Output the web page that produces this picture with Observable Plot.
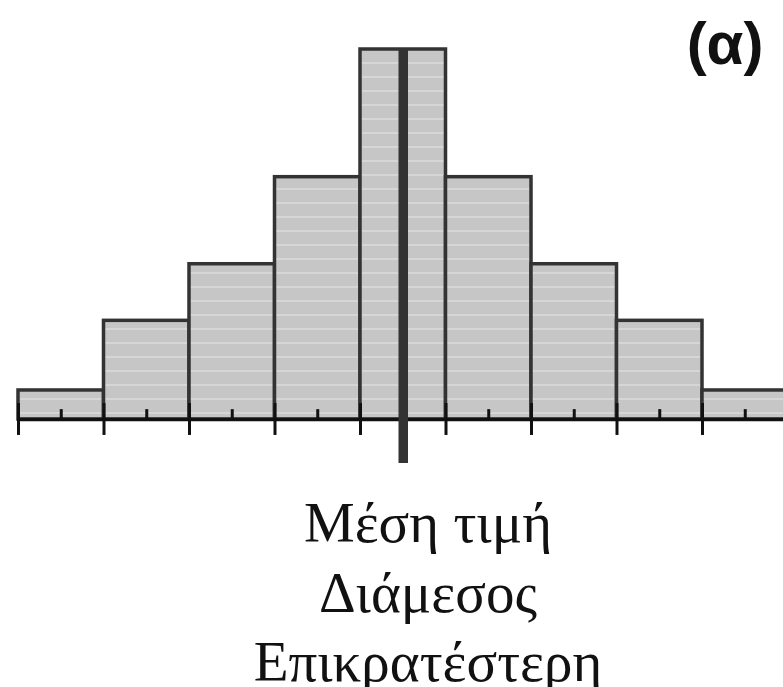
<!DOCTYPE html>
<html>
<head>
<meta charset="utf-8">
<script src="https://cdn.jsdelivr.net/npm/d3@7"></script>
<script src="https://cdn.jsdelivr.net/npm/@observablehq/plot@0.6"></script>
<style>
  html, body { margin: 0; padding: 0; background: #fff; }
  #chart svg { display: block; }
  #labels {
    font-family: "Liberation Serif", "Times New Roman", serif;
    font-size: 57px;
    line-height: 69.5px;
    text-align: center;
    color: #111;
    width: 710px;
    padding-left: 73px;
    margin-top: 18px;
    white-space: nowrap;
  }
</style>
</head>
<body>
<div id="chart"></div>
<div id="labels"></div>
<script>
// --- data ---
const binEdges = [0, 1, 2, 3, 4, 5, 6, 7, 8, 9];
const frequencies = [1, 3.4, 5.35, 8.35, 12.75, 8.35, 5.35, 3.4, 1];
const centralValue = 4.5;
const labelLines = ["Μέση τιμή", "Διάμεσος", "Επικρατέστερη"];
const panelLabel = "(α)";

// --- derived tables ---
const bars = frequencies.map((f, i) => ({x1: binEdges[i], x2: binEdges[i + 1], y: f}));
const midpoints = frequencies.map((f, i) => (binEdges[i] + binEdges[i + 1]) / 2).filter(m => m !== centralValue);
const maxFreq = d3.max(frequencies);

const chart = Plot.plot({
  width: 783,
  height: 470,
  marginLeft: 18,
  marginRight: 0,
  marginTop: 0,
  marginBottom: 0,
  x: {domain: [0, 9], range: [18, 787.5], axis: null},
  y: {domain: [0, maxFreq], range: [419, 49], axis: null},
  marks: [
    Plot.rectY(bars, {x1: "x1", x2: "x2", y: "y", fill: "url(#stripes)", stroke: "#333", strokeWidth: 3.5}),
    Plot.ruleY([0], {stroke: "#111", strokeWidth: 3.5}),
    Plot.ruleX(binEdges, {y1: -0.55, y2: 0.55, stroke: "#111", strokeWidth: 3}),
    Plot.ruleX(midpoints, {y1: 0, y2: 0.34, stroke: "#111", strokeWidth: 3}),
    Plot.ruleX([centralValue], {y1: maxFreq, y2: -1.52, stroke: "#333", strokeWidth: 9.5}),
    Plot.text([panelLabel], {
      frameAnchor: "top-right",
      textAnchor: "end",
      lineAnchor: "top",
      dx: -20,
      dy: 21,
      fontSize: 60,
      fontWeight: "bold",
      fontFamily: "Liberation Sans, Arial, sans-serif",
      fill: "#111"
    })
  ]
});

// striped grey fill pattern
const defs = d3.select(chart).insert("defs", ":first-child");
const pat = defs.append("pattern")
  .attr("id", "stripes")
  .attr("patternUnits", "userSpaceOnUse")
  .attr("width", 20)
  .attr("height", 14);
pat.append("rect").attr("width", 20).attr("height", 14).attr("fill", "#c6c6c6");
pat.append("rect").attr("y", 6).attr("width", 20).attr("height", 2).attr("fill", "#d6d6d6");

document.getElementById("chart").appendChild(chart);

const lab = document.getElementById("labels");
labelLines.forEach(t => {
  const d = document.createElement("div");
  d.textContent = t;
  lab.appendChild(d);
});
</script>
</body>
</html>
